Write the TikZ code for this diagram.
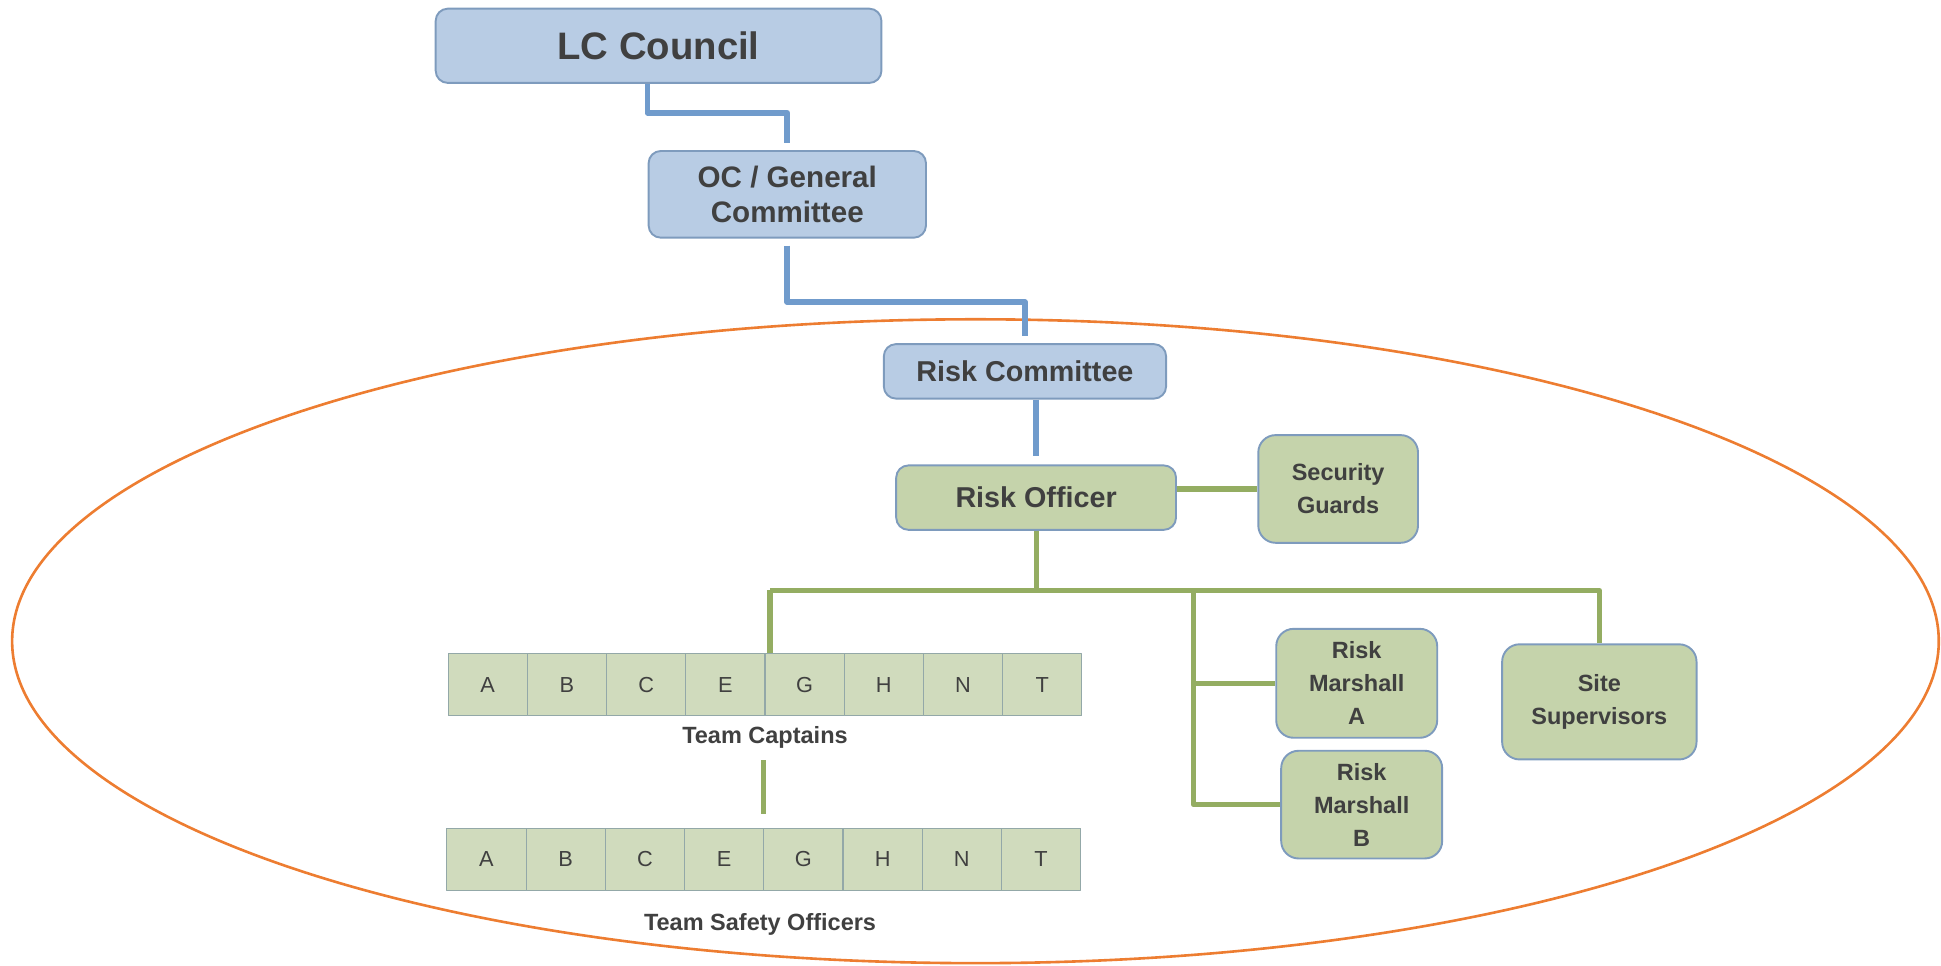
\documentclass[tikz,border=0pt]{standalone}
\usepackage{fontspec}
\setmainfont{Liberation Sans}
\usetikzlibrary{calc}
\definecolor{boxblue}{HTML}{B8CCE4}
\definecolor{boxgreen}{HTML}{C5D3AB}
\definecolor{cellgreen}{HTML}{D0DBBD}
\definecolor{edgeblue}{HTML}{7E9BBD}
\definecolor{celledge}{HTML}{93A8A8}
\definecolor{linkblue}{HTML}{709BCC}
\definecolor{linkgreen}{HTML}{94AD62}
\definecolor{ringorange}{HTML}{ED7D31}
\definecolor{textgray}{HTML}{404040}
\tikzset{
  every picture/.style={
    line join=round,
  },
  orgbox/.style={draw=edgeblue, line width=1.1pt, rounded corners=7pt,
    align=center, text=textgray, inner sep=0pt},
  bluebox/.style={orgbox, fill=boxblue},
  greenbox/.style={orgbox, fill=boxgreen, rounded corners=10pt},
  smallfont/.style={font=\fontsize{13.5}{19}\selectfont\bfseries},
  teamcell/.style={draw=celledge, fill=cellgreen, line width=0.6pt,
    minimum width=1.6cm, minimum height=1.25cm, inner sep=0pt,
    text=textgray, font=\fontsize{12.5}{14}\selectfont},
  bluelink/.style={linkblue, line width=3.3pt},
  greenlink/.style={linkgreen, line width=3pt},
}

\begin{document}
\begin{tikzpicture}[x=0.025cm, y=-0.025cm]
    \useasboundingbox (0,0) rectangle (1568,780);

    % Ring round the risk team
    \draw[ringorange, line width=1.5pt] (788,518) ellipse [x radius=19.45cm, y radius=6.5cm];

    % Council and committees
    \node[bluebox, minimum width=9cm, minimum height=1.5cm,
      font=\fontsize{22}{26}\selectfont\bfseries] (lc) at (532,37) {LC Council};
    \node[bluebox, minimum width=5.6cm, minimum height=1.75cm,
      font=\fontsize{17}{20}\selectfont\bfseries] (oc) at (636,157) {OC / General\\Committee};
    \node[bluebox, minimum width=5.7cm, minimum height=1.1cm,
      font=\fontsize{16.5}{20}\selectfont\bfseries] (rc) at (828,300) {Risk Committee};

    % Risk officer and the people under him
    \node[greenbox, rounded corners=7pt, minimum width=5.65cm, minimum height=1.3cm,
      font=\fontsize{16.5}{20}\selectfont\bfseries] (ro) at (837,402) {Risk Officer};
    \node[greenbox, smallfont, minimum width=3.225cm, minimum height=2.175cm] (sg) at (1081,395) {Security\\Guards};
    \node[greenbox, smallfont, minimum width=3.25cm, minimum height=2.2cm] (rma) at (1096,552) {Risk\\Marshall\\A};
    \node[greenbox, smallfont, minimum width=3.25cm, minimum height=2.175cm] (rmb) at (1100,650) {Risk\\Marshall\\B};
    \node[greenbox, smallfont, minimum width=3.925cm, minimum height=2.325cm] (ss) at (1292,567) {Site\\Supervisors};

    % Team rows
    \foreach \t [count=\i] in {A,B,C,E,G,H,N,T} {
        \node[teamcell] (tc\i) at ({394+(\i-1)*64},553) {\t};
        \node[teamcell] (ts\i) at ({393+(\i-1)*64},694) {\t};
    }
    \node[smallfont, text=textgray] (tcl) at (618,596) {Team Captains};
    \node[smallfont, text=textgray] (tsl) at (614,747) {Team Safety Officers};

    % Blue links
    \coordinate (j1) at (523,91);
    \coordinate (j2) at (636,244);
    \draw[bluelink] (lc.south -| j1) |- (oc.north |- j1) -- ([yshift=4pt]oc.north);
    \draw[bluelink] ([yshift=-4pt]oc.south) |- (rc.north |- j2) -- ([yshift=4pt]rc.north);
    \draw[bluelink] (rc.south -| ro.north) -- ([yshift=5pt]ro.north);

    % Green links
    \coordinate (busL) at (622,477);
    \coordinate (busM) at (964,477);
    \draw[greenlink] (ro.east |- sg.west) -- (sg.west);
    \draw[greenlink] (ro.south) -- (ro.south |- busL);
    \draw[greenlink] (busL) -- (ss.north |- busL) -- (ss.north);
    \draw[greenlink] (busL) -- (busL |- tc5.north);
    \draw[greenlink] (busM) |- (rmb.west);
    \draw[greenlink] (busM |- rma.west) -- (rma.west);
    \draw[greenlink, shorten <=3pt, shorten >=8pt] (tcl.south -| ts5.north west) -- (ts5.north west);
\end{tikzpicture}
\end{document}
